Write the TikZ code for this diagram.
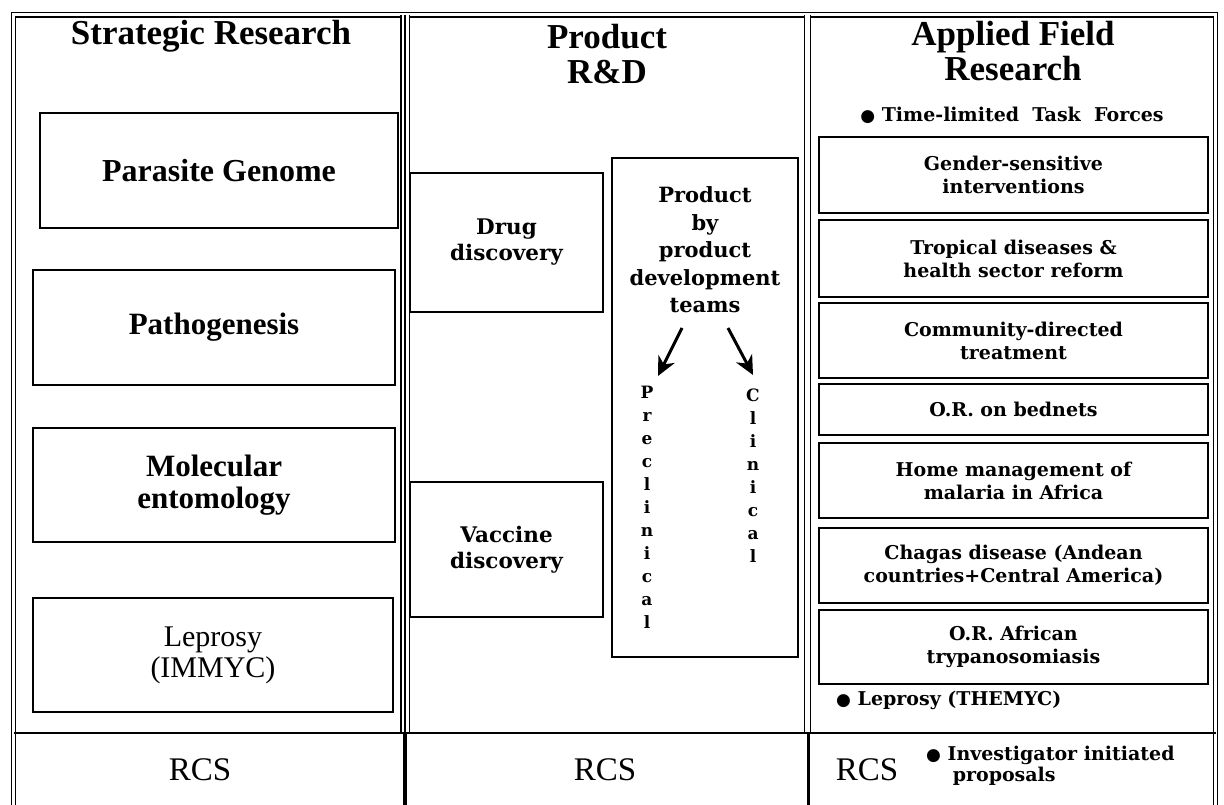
\documentclass[tikz,border=0pt]{standalone}
\usepackage{fontspec}
\setmainfont{Liberation Serif}
\newfontfamily\dvs{DejaVu Serif}
\newfontfamily\dvsans{DejaVu Sans}
\usetikzlibrary{arrows.meta}
\newcommand{\bul}{\raisebox{0pt}{\dvsans\fontsize{17}{17}\selectfont ●}}
\begin{document}
\begin{tikzpicture}[x=1pt,y=-1pt,
  frame/.style={line width=1.1pt, double, double distance=3pt},
  title/.style={font=\bfseries\fontsize{35}{35}\selectfont, align=center, inner sep=0pt},
  bigbox/.style={draw, line width=1.8pt, align=center, inner sep=0pt},
  rcs/.style={font=\fontsize{33}{33}\selectfont, inner sep=0pt},
  mbox/.style={draw, line width=1.5pt, align=center, inner sep=0pt,
    font=\dvs\bfseries\fontsize{21.5}{26}\selectfont},
  stext/.style={align=center, inner sep=0pt, font=\dvs\bfseries\fontsize{21}{27.5}\selectfont},
  vtxt/.style={align=center, inner sep=0pt, font=\dvs\bfseries\fontsize{17}{23}\selectfont},
  sbox/.style={draw, line width=2.2pt, minimum width=389pt, align=center, inner sep=0pt,
    font=\dvs\bfseries\fontsize{19}{23}\selectfont},
  note/.style={inner sep=0pt, align=left, font=\dvs\bfseries\fontsize{19}{21}\selectfont},
  arr/.style={line width=3pt, -{Stealth[length=19pt,width=18pt,inset=6pt]}}
]
\useasboundingbox (0,0) rectangle (1224,805);
\fill[white] (0,0) rectangle (1224,805);

% frame
\draw[frame] (13.5,15) rectangle (1215.5,812);
\draw[frame, double distance=7pt] (405,15) -- (405,733);
\draw[line width=1.1pt] (405,15) -- (405,733);
\draw[frame, double distance=4.5pt] (807.5,15) -- (807.5,733);
\draw[line width=2pt] (13.5,733) -- (1215.5,733);
\draw[line width=4.5pt] (405,733) -- (405,812);
\draw[line width=3pt] (808,733) -- (808,812);

% column 1
\node[title] (t1) at (211,36) {Strategic Research};
\node[bigbox, minimum width=358pt, minimum height=115pt,
  font=\bfseries\fontsize{32}{34}\selectfont] (pg) at (219,170.5) {Parasite Genome};
\node[bigbox, minimum width=362pt, minimum height=115pt,
  font=\bfseries\fontsize{31}{34}\selectfont] (path) at (214,327.5) {Pathogenesis};
\node[bigbox, minimum width=362pt, minimum height=114pt,
  font=\bfseries\fontsize{31}{32}\selectfont] (mol) at (214,485) {Molecular\\entomology};
\node[bigbox, minimum width=360pt, minimum height=114pt,
  font=\fontsize{30}{31}\selectfont] (lep) at (213,655) {Leprosy\\(IMMYC)};
\node[rcs] (r1) at (200,770) {RCS};

% column 2
\node[title] (t2) at (607,54) {Product\\R\&D};
\node[mbox, minimum width=193pt, minimum height=139pt] (drug) at (506.5,242.5) {Drug\\discovery};
\node[mbox, minimum width=193pt, minimum height=135pt] (vac) at (506.5,549.5) {Vaccine\\discovery};
\node[draw, line width=2pt, minimum width=186pt, minimum height=499pt, inner sep=0pt] (pd) at (705,407.5) {};
\node[stext] (pdt) at (705,250) {Product\\by\\product\\development\\teams};
\coordinate (a1s) at (682,328);
\coordinate (a1e) at (658,376);
\coordinate (a2s) at (728,328);
\coordinate (a2e) at (753,375);
\draw[arr] (a1s) -- (a1e);
\draw[arr] (a2s) -- (a2e);
\node[vtxt] (pre) at (647,507) {P\\r\\e\\c\\l\\i\\n\\i\\c\\a\\l};
\node[vtxt] (cli) at (753,476) {C\\l\\i\\n\\i\\c\\a\\l};
\node[rcs] (r2) at (605,770) {RCS};

% column 3
\node[title] (t3) at (1013,51) {Applied Field\\Research};
\node[note] (tf) at (1012,115) {\bul\ Time-limited\ \ Task\ \ Forces};
\node[sbox, minimum height=76pt] (b1) at (1013.5,175) {Gender-sensitive\\interventions};
\node[sbox, minimum height=77pt] (b2) at (1013.5,258.5) {Tropical diseases \&\\health sector reform};
\node[sbox, minimum height=75pt] (b3) at (1013.5,340.5) {Community-directed\\treatment};
\node[sbox, minimum height=51pt] (b4) at (1013.5,409.5) {O.R. on bednets};
\node[sbox, minimum height=75pt] (b5) at (1013.5,480.5) {Home management of\\malaria in Africa};
\node[sbox, minimum height=75pt] (b6) at (1013.5,565.5) {Chagas disease (Andean\\countries+Central America)};
\node[sbox, minimum height=74pt] (b7) at (1013.5,647) {O.R. African\\trypanosomiasis};
\node[note, anchor=west] (lt) at (836,700) {\bul\ Leprosy (THEMYC)};
\node[rcs] (r3) at (867,770) {RCS};
\node[note, anchor=west] (inv) at (926,766) {\bul\ Investigator initiated\\\hspace{1.4em}proposals};
\end{tikzpicture}
\end{document}
